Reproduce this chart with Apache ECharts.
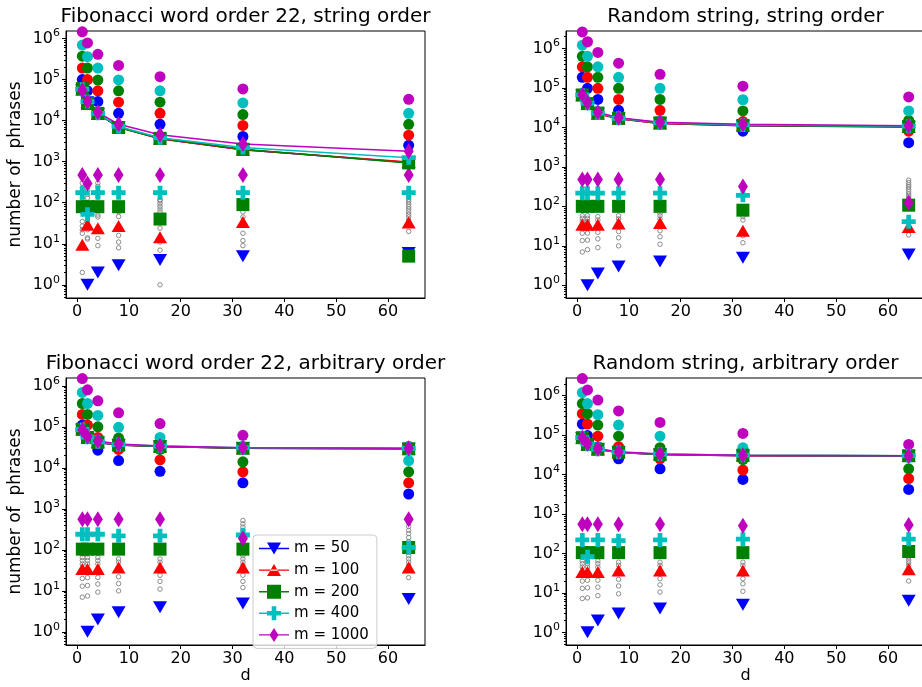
<!DOCTYPE html>
<html>
<head>
<meta charset="utf-8">
<script src="https://cdn.jsdelivr.net/npm/echarts@6/dist/echarts.min.js"></script>
<style>
  html, body { margin: 0; padding: 0; background: #fff; }
  #chart { width: 922px; height: 687px; }
</style>
</head>
<body>
<div id="chart"></div>
<script>
// d values on the x axis, m values of the legend
const dValues = [1, 2, 4, 8, 16, 32, 64];
const mNames = ['m = 50', 'm = 100', 'm = 200', 'm = 400', 'm = 1000'];
const mColors = ['#0000ff', '#ff0000', '#008000', '#00bfbf', '#bf00bf'];
const xTicks = [0, 10, 20, 30, 40, 50, 60];
const yTicks = [1, 10, 100, 1000, 10000, 100000, 1000000];

// Fibonacci word order 22, string order
const fibStrLine = [
  [5.5e4, 2.8e4, 1.45e4, 6.9e3, 3.6e3, 1.95e3, 9.5e2],
  [5.6e4, 2.8e4, 1.45e4, 7.0e3, 3.6e3, 1.95e3, 9.8e2],
  [6.0e4, 2.6e4, 1.5e4, 6.8e3, 3.7e3, 2.0e3, 9.3e2],
  [5.8e4, 2.9e4, 1.5e4, 7.2e3, 3.8e3, 2.2e3, 1.25e3],
  [5.5e4, 2.9e4, 1.6e4, 8.1e3, 4.5e3, 2.7e3, 1.8e3]
];
const fibStrHigh = [
  [1.0e5, 5.3e4, 2.9e4, 1.5e4, 8.1e3, 4.1e3, 2.5e3],
  [1.9e5, 1.0e5, 5.3e4, 2.8e4, 1.5e4, 7.6e3, 4.4e3],
  [3.7e5, 1.9e5, 9.7e4, 5.3e4, 2.8e4, 1.4e4, 8.1e3],
  [6.9e5, 3.6e5, 1.9e5, 9.8e4, 5.3e4, 2.7e4, 1.5e4],
  [1.45e6, 7.8e5, 4.1e5, 2.2e5, 1.17e5, 5.9e4, 3.3e4]
];
const fibStrLow = [
  [null, 1, 2, 3, 4, 5, 6],
  [9.5, 29, 24, 27, 14.5, 34, 33],
  [80, 80, 80, 80, 40, 90, 5],
  [175, 52, 175, 175, 175, 175, 175],
  [470, 295, 470, 470, 470, 470, 470]
];
const fibStrGray = [
  [1, 2], [1, 18], [1, 22], [1, 27], [1, 35], [1, 60], [1, 130], [1, 170], [1, 230], [1, 300],
  [2, 13], [2, 14], [2, 22], [2, 35], [2, 40], [2, 130], [2, 160], [2, 200], [2, 260], [2, 340],
  [4, 9], [4, 13.6], [4, 45], [4, 50], [4, 140], [4, 190], [4, 250], [4, 300],
  [8, 8], [8, 11], [8, 16], [8, 46], [8, 60],
  [16, 1], [16, 7], [16, 11], [16, 24], [16, 60], [16, 70], [16, 82], [16, 95], [16, 110], [16, 118],
  [32, 9], [32, 12], [32, 18], [32, 45], [32, 60],
  [64, 20], [64, 38], [64, 45], [64, 52], [64, 60], [64, 70], [64, 80], [64, 92], [64, 105], [64, 120], [64, 140]
];

// Random string, string order
const randStrLine = [
  [6.4e4, 3.9e4, 2.2e4, 1.65e4, 1.25e4, 1.1e4, 1.02e4],
  [6.5e4, 4.0e4, 2.2e4, 1.65e4, 1.25e4, 1.12e4, 1.04e4],
  [6.6e4, 4.0e4, 2.3e4, 1.7e4, 1.3e4, 1.12e4, 1.05e4],
  [6.6e4, 4.1e4, 2.3e4, 1.7e4, 1.3e4, 1.15e4, 1.07e4],
  [6.8e4, 4.2e4, 2.4e4, 1.75e4, 1.35e4, 1.2e4, 1.1e4]
];
const randStrHigh = [
  [1.85e5, 9.7e4, 5.1e4, 2.7e4, 1.45e4, 8.0e3, 4.1e3],
  [3.4e5, 1.85e5, 9.7e4, 5.1e4, 2.7e4, 1.4e4, 8.0e3],
  [6.3e5, 3.4e5, 1.85e5, 9.7e4, 5.1e4, 2.6e4, 1.5e4],
  [1.2e6, 6.3e5, 3.4e5, 1.85e5, 9.7e4, 5.0e4, 2.6e4],
  [2.6e6, 1.47e6, 7.9e5, 4.2e5, 2.2e5, 1.1e5, 5.9e4]
];
const randStrLow = [
  [null, 1, 2, 3, 4, 5, 6],
  [34, 34, 34, 37, 38, 24, 30],
  [100, 100, 100, 100, 100, 80, 107],
  [215, 215, 215, 215, 215, 190, 41],
  [480, 480, 480, 480, 480, 320, 123]
];
const randStrGray = [
  [1, 7], [1, 13.6], [1, 21], [1, 42], [1, 50], [1, 58],
  [2, 8], [2, 14], [2, 21], [2, 42], [2, 50], [2, 58],
  [4, 9], [4, 15], [4, 22], [4, 45], [4, 55],
  [8, 10], [8, 16], [8, 23], [8, 48], [8, 58],
  [16, 11], [16, 17], [16, 24], [16, 48], [16, 58], [16, 68],
  [32, 12], [32, 18], [32, 45], [32, 55],
  [64, 19], [64, 98], [64, 110], [64, 125], [64, 140], [64, 160], [64, 180], [64, 205], [64, 235],
  [64, 270], [64, 310], [64, 350], [64, 400], [64, 460]
];

// Fibonacci word order 22, arbitrary order
const fibArbLine = [
  [8.5e4, 5.4e4, 4.1e4, 3.6e4, 3.3e4, 3.0e4, 2.9e4],
  [8.6e4, 5.5e4, 4.2e4, 3.6e4, 3.3e4, 3.0e4, 2.9e4],
  [8.7e4, 5.5e4, 4.2e4, 3.6e4, 3.3e4, 3.0e4, 2.9e4],
  [8.6e4, 5.6e4, 4.3e4, 3.7e4, 3.4e4, 3.1e4, 3.0e4],
  [8.5e4, 5.8e4, 4.5e4, 3.8e4, 3.4e4, 3.1e4, 3.0e4]
];
const fibArbHigh = [
  [1.1e5, 6.0e4, 2.7e4, 1.5e4, 8.2e3, 4.3e3, 2.3e3],
  [2.0e5, 1.1e5, 5.5e4, 2.8e4, 1.56e4, 8.0e3, 4.3e3],
  [3.7e5, 2.0e5, 1.0e5, 5.3e4, 2.8e4, 1.4e4, 8.0e3],
  [6.9e5, 3.7e5, 1.9e5, 9.7e4, 5.5e4, 2.8e4, 1.5e4],
  [1.5e6, 8.0e5, 4.3e5, 2.2e5, 1.2e5, 6.2e4, 3.3e4]
];
const fibArbLow = [
  [null, 1, 2, 3, 4, 4.9, 6.3],
  [34, 34, 34, 37, 37, 37, 37],
  [104, 104, 104, 104, 104, 104, 114],
  [240, 240, 240, 220, 220, 230, 114],
  [560, 560, 560, 560, 560, 190, 560]
];
const fibArbGray = [
  [1, 7], [1, 13], [1, 20], [1, 45], [1, 55], [1, 65], [1, 80],
  [2, 7.5], [2, 13.5], [2, 21], [2, 45], [2, 55], [2, 65], [2, 80],
  [4, 9.3], [4, 14.6], [4, 21.3], [4, 45], [4, 55], [4, 65],
  [8, 10], [8, 15], [8, 22], [8, 50], [8, 60],
  [16, 11], [16, 17], [16, 24], [16, 50], [16, 60],
  [32, 12], [32, 17], [32, 24], [32, 42], [32, 50], [32, 60], [32, 72], [32, 86], [32, 100], [32, 120],
  [32, 145], [32, 175], [32, 210], [32, 250], [32, 300], [32, 360], [32, 430], [32, 520],
  [64, 21], [64, 42], [64, 50], [64, 60], [64, 72], [64, 86], [64, 100], [64, 130], [64, 160],
  [64, 200], [64, 250], [64, 300], [64, 370], [64, 450]
];

// Random string, arbitrary order
const randArbLine = [
  [8.4e4, 5.6e4, 4.3e4, 3.6e4, 3.2e4, 3.0e4, 2.95e4],
  [8.5e4, 5.7e4, 4.3e4, 3.6e4, 3.2e4, 3.0e4, 2.95e4],
  [8.6e4, 5.8e4, 4.4e4, 3.7e4, 3.2e4, 3.1e4, 3.0e4],
  [8.6e4, 5.9e4, 4.4e4, 3.7e4, 3.3e4, 3.1e4, 3.0e4],
  [8.6e4, 6.0e4, 4.5e4, 3.8e4, 3.3e4, 3.1e4, 3.0e4]
];
const randArbHigh = [
  [1.9e5, 9.7e4, 5.0e4, 2.5e4, 1.4e4, 7.5e3, 4.2e3],
  [3.5e5, 1.9e5, 9.4e4, 5.1e4, 2.5e4, 1.3e4, 7.9e3],
  [6.3e5, 3.5e5, 1.8e5, 9.4e4, 4.8e4, 2.4e4, 1.4e4],
  [1.2e6, 6.3e5, 3.3e5, 1.8e5, 9.4e4, 4.8e4, 2.8e4],
  [2.7e6, 1.4e6, 7.7e5, 4.1e5, 2.1e5, 1.1e5, 5.8e4]
];
const randArbLow = [
  [null, 1, 2, 3, 4, 5, 6.3],
  [34, 34, 34, 37, 37, 37, 40],
  [105, 105, 105, 105, 105, 105, 112],
  [220, 83, 220, 210, 220, 230, 230],
  [550, 550, 550, 550, 550, 500, 525]
];
const randArbGray = [
  [1, 7.2], [1, 13], [1, 20], [1, 45], [1, 55], [1, 65], [1, 80],
  [2, 7.5], [2, 13.5], [2, 21], [2, 45], [2, 55], [2, 65],
  [4, 8.5], [4, 14], [4, 21], [4, 45], [4, 55], [4, 65],
  [8, 9.5], [8, 15], [8, 22], [8, 50], [8, 60],
  [16, 10.5], [16, 16], [16, 23], [16, 50], [16, 60],
  [32, 11], [32, 17], [32, 23], [32, 50], [32, 60],
  [64, 20], [64, 50], [64, 58], [64, 68], [64, 80], [64, 92]
];

const FONT = 'DejaVu Sans';
const PLUS = 'path://M3.3,0L6.7,0L6.7,3.3L10,3.3L10,6.7L6.7,6.7L6.7,10L3.3,10L3.3,6.7L0,6.7L0,3.3L3.3,3.3Z';
const markers = [
  { symbol: 'triangle', rotate: 180, size: [14, 12] },
  { symbol: 'triangle', rotate: 0, size: [14, 12] },
  { symbol: 'rect', rotate: 0, size: 13 },
  { symbol: PLUS, rotate: 0, size: 14 },
  { symbol: 'diamond', rotate: 0, size: [10, 16] }
];
// legend icons: a line with the marker in the middle
const legendIcons = [
  'path://M0,6.3L30,6.3L30,7.7L0,7.7Z M8,1L22,1L15,13Z',
  'path://M0,6.3L30,6.3L30,7.7L0,7.7Z M8,13L22,13L15,1Z',
  'path://M0,6.3L30,6.3L30,7.7L0,7.7Z M8,0L22,0L22,14L8,14Z',
  'path://M0,6.3L30,6.3L30,7.7L0,7.7Z M12.7,0L17.3,0L17.3,4.7L22,4.7L22,9.3L17.3,9.3L17.3,14L12.7,14L12.7,9.3L8,9.3L8,4.7L12.7,4.7Z',
  'path://M0,6.3L30,6.3L30,7.7L0,7.7Z M15,0L19.5,7L15,14L10.5,7Z'
];

const panels = [
  { title: 'Fibonacci word order 22, string order', left: 66, top: 31, yMin: 0.478, yMax: 1.52e6,
    line: fibStrLine, high: fibStrHigh, low: fibStrLow, gray: fibStrGray, yName: true, xName: false },
  { title: 'Random string, string order', left: 566, top: 31, yMin: 0.478, yMax: 2.75e6,
    line: randStrLine, high: randStrHigh, low: randStrLow, gray: randStrGray, yName: false, xName: false },
  { title: 'Fibonacci word order 22, arbitrary order', left: 66, top: 378, yMin: 0.478, yMax: 1.55e6,
    line: fibArbLine, high: fibArbHigh, low: fibArbLow, gray: fibArbGray, yName: true, xName: true },
  { title: 'Random string, arbitrary order', left: 566, top: 378, yMin: 0.478, yMax: 2.8e6,
    line: randArbLine, high: randArbHigh, low: randArbLow, gray: randArbGray, yName: false, xName: true }
];
const PW = 359, PH = 267;

function toPairs(vals) {
  const out = [];
  vals.forEach((v, i) => { if (v != null) out.push([dValues[i], v]); });
  return out;
}
function minorTicks(lo, hi) {
  const out = [];
  for (let e = -1; e <= 6; e++) {
    for (let k = 2; k <= 9; k++) {
      const v = k * Math.pow(10, e);
      if (v >= lo && v <= hi) out.push(v);
    }
  }
  return out;
}

const grids = [], xAxes = [], yAxes = [], series = [], graphics = [];

panels.forEach((p, i) => {
  grids.push({ left: p.left, top: p.top, width: PW, height: PH, show: true,
    borderColor: '#000', borderWidth: 1, backgroundColor: 'transparent',
    containLabel: false, outerBoundsMode: 'none' });
  xAxes.push({
    type: 'value', gridIndex: i, min: -2.15, max: 67.15,
    name: p.xName ? 'd' : '', nameLocation: 'middle', nameGap: 22,
    nameTextStyle: { fontFamily: FONT, fontSize: 16, color: '#000' },
    axisLine: { show: true, onZero: false, lineStyle: { color: '#000', width: 1 } },
    axisTick: { show: true, length: 4, customValues: xTicks, lineStyle: { color: '#000' } },
    axisLabel: { customValues: xTicks, fontFamily: FONT, fontSize: 16, color: '#000', margin: 6 },
    splitLine: { show: false }
  });
  yAxes.push({
    type: 'log', logBase: 10, gridIndex: i, min: p.yMin, max: p.yMax,
    position: 'left', offset: 0,
    name: p.yName ? 'number of  phrases' : '', nameLocation: 'middle', nameGap: 42,
    nameTextStyle: { fontFamily: FONT, fontSize: 17, color: '#000' },
    axisLine: { show: true, onZero: false, lineStyle: { color: '#000', width: 1 } },
    axisTick: { show: true, length: 4, customValues: yTicks, lineStyle: { color: '#000' } },
    axisLabel: {
      customValues: yTicks, margin: 6,
      formatter: v => '{b|10}{s|' + Math.round(Math.log10(v)) + '}',
      rich: {
        b: { fontFamily: FONT, fontSize: 16, color: '#000' },
        s: { fontFamily: FONT, fontSize: 11, color: '#000', padding: [0, 0, 10, 0] }
      }
    },
    splitLine: { show: false }
  });
  graphics.push({
    type: 'text', x: p.left + PW / 2, y: p.top - 14,
    style: { text: p.title, fontFamily: FONT, fontSize: 20, fill: '#000', align: 'center', verticalAlign: 'middle' }
  });
});
// minor tick overlays, same side and range as the main y axes
panels.forEach((p, i) => {
  yAxes.push({
    type: 'log', logBase: 10, gridIndex: i, min: p.yMin, max: p.yMax,
    position: 'left', offset: 0,
    axisLine: { show: false, onZero: false },
    axisTick: { show: true, length: 2, customValues: minorTicks(p.yMin, p.yMax), lineStyle: { color: '#000' } },
    axisLabel: { show: false }, splitLine: { show: false }
  });
});

panels.forEach((p, i) => {
  series.push({
    name: 'gray', type: 'scatter', xAxisIndex: i, yAxisIndex: i,
    symbol: 'circle', symbolSize: 4.5,
    itemStyle: { color: 'rgba(0,0,0,0)', borderColor: '#808080', borderWidth: 0.9, opacity: 1 },
    data: p.gray, silent: true
  });
  mNames.forEach((name, k) => {
    const mk = markers[k];
    series.push({
      name, type: 'line', xAxisIndex: i, yAxisIndex: i,
      data: toPairs(p.line[k]), symbol: mk.symbol, symbolSize: mk.size, symbolRotate: mk.rotate,
      showSymbol: true, lineStyle: { color: mColors[k], width: 1.5 },
      itemStyle: { color: mColors[k], opacity: 1 }, silent: true
    });
    series.push({
      name, type: 'scatter', xAxisIndex: i, yAxisIndex: i,
      data: toPairs(p.high[k]), symbol: 'circle', symbolSize: 11,
      itemStyle: { color: mColors[k], opacity: 1 }, silent: true
    });
    series.push({
      name, type: 'scatter', xAxisIndex: i, yAxisIndex: i,
      data: toPairs(p.low[k]), symbol: mk.symbol, symbolSize: mk.size, symbolRotate: mk.rotate,
      itemStyle: { color: mColors[k], opacity: 1 }, silent: true
    });
  });
});

const chart = echarts.init(document.getElementById('chart'));
chart.setOption({
  animation: false,
  backgroundColor: '#fff',
  textStyle: { fontFamily: FONT, color: '#000' },
  grid: grids,
  xAxis: xAxes,
  yAxis: yAxes,
  graphic: graphics,
  legend: {
    orient: 'vertical', left: 253, top: 535, selectedMode: false,
    itemWidth: 30, itemHeight: 14, itemGap: 6.6,
    padding: [6, 8, 6, 6],
    backgroundColor: 'rgba(255,255,255,0.8)', borderColor: '#cccccc', borderWidth: 1, borderRadius: 4,
    textStyle: { fontFamily: FONT, fontSize: 15, color: '#000' },
    data: mNames.map((n, k) => ({ name: n, icon: legendIcons[k], itemStyle: { color: mColors[k] } }))
  },
  series: series
});
</script>
</body>
</html>
